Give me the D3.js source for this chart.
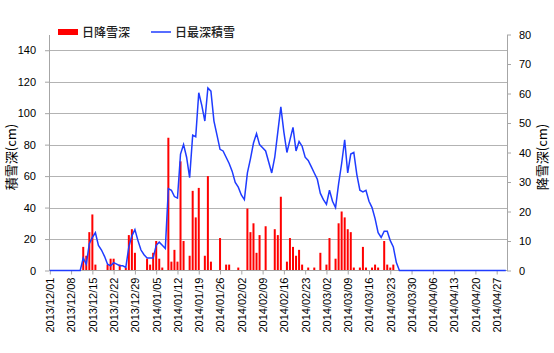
<!DOCTYPE html>
<html lang="ja">
<head>
  <meta charset="UTF-8">
  <title>日降雪深・日最深積雪</title>
  <script src="https://d3js.org/d3.v7.min.js"></script>
  <style>
    body { margin: 0; background: #fff; }
    text { font-family: "Liberation Sans", Arial, "Noto Sans CJK JP", sans-serif; }
  </style>
</head>
<body>
  <script>
    // 1. Data (one value per day, 2013/12/01 .. 2014/04/30)
    const startDate = new Date(2013, 11, 1);
    const dayCount = 151;

    // 日最深積雪 (cm) - left axis; days not listed are 0
    const depthByDay = {
      11: 8, 12: 4, 13: 17, 14: 21, 15: 24, 16: 16, 17: 13, 18: 9, 19: 4, 20: 3,
      21: 5, 22: 4, 23: 3, 24: 3, 25: 2, 26: 15, 27: 22, 28: 26, 29: 19, 30: 13,
      31: 10, 32: 8, 33: 8, 34: 8, 35: 16, 36: 18, 37: 16, 38: 14, 39: 52, 40: 51,
      41: 47, 42: 46, 43: 74, 44: 80, 45: 72, 46: 59, 47: 86, 48: 85, 49: 113, 50: 105,
      51: 95, 52: 116, 53: 114, 54: 95, 55: 86, 56: 77, 57: 76, 58: 72, 59: 68, 60: 63,
      61: 56, 62: 53, 63: 48, 64: 45, 65: 62, 66: 71, 67: 81, 68: 87, 69: 80, 70: 78,
      71: 76, 72: 69, 73: 62, 74: 72, 75: 88, 76: 104, 77: 88, 78: 75, 79: 83, 80: 91,
      81: 76, 82: 82, 83: 79, 84: 72, 85: 70, 86: 66, 87: 62, 88: 58, 89: 49, 90: 45,
      91: 42, 92: 51, 93: 44, 94: 40, 95: 55, 96: 68, 97: 83, 98: 62, 99: 74, 100: 75,
      101: 61, 102: 51, 103: 50, 104: 51, 105: 44, 106: 40, 107: 33, 108: 24, 109: 21, 110: 25,
      111: 25, 112: 19, 113: 15, 114: 5
    };

    // 日降雪深 (cm) - right axis; days not listed are 0
    const snowfallByDay = {
      11: 8, 12: 5, 13: 13, 14: 19, 15: 2, 19: 2, 20: 4, 21: 4, 23: 2, 25: 1,
      26: 12, 27: 14, 28: 6, 32: 4, 33: 2, 34: 6, 35: 10, 36: 4, 37: 1, 39: 45,
      40: 3, 41: 7, 42: 3, 43: 37, 44: 10, 46: 5, 47: 27, 48: 18, 49: 28, 51: 5,
      52: 32, 53: 3, 56: 11, 58: 2, 59: 2, 62: 1, 65: 21, 66: 13, 67: 16, 68: 6,
      69: 12, 71: 15, 74: 14, 75: 12, 76: 25, 78: 3, 79: 11, 80: 8, 81: 5, 82: 7,
      83: 2, 85: 1, 87: 1, 89: 6, 91: 2, 92: 11, 94: 4, 95: 16, 96: 20, 97: 18,
      98: 14, 99: 13, 100: 1, 102: 1, 103: 8, 104: 1, 106: 1, 107: 2, 108: 1, 110: 10,
      111: 2, 112: 1, 113: 2
    };

    const leftTicks = [0, 20, 40, 60, 80, 100, 120, 140];
    const rightTicks = [0, 10, 20, 30, 40, 50, 60, 70, 80];
    const seriesNames = ["日降雪深", "日最深積雪"];
    const leftTitle = "積雪深(cm)";
    const rightTitle = "降雪深(cm)";

    const days = d3.range(dayCount).map(i => ({
      date: d3.timeDay.offset(startDate, i),
      depth: depthByDay[i] || 0,
      snowfall: snowfallByDay[i] || 0
    }));

    // 2. SVG
    const width = 554, height = 353;
    const plot = { left: 49, right: 507, top: 34.5, bottom: 270.5 };
    const svg = d3.select("body").append("svg")
      .attr("width", width)
      .attr("height", height);

    // 3. Scales
    const x = d3.scaleTime()
      .domain([startDate, d3.timeDay.offset(startDate, dayCount - 1)])
      .range([49.8, 49.8 + 3.04 * (dayCount - 1)]);
    const yLeft = d3.scaleLinear().domain([0, 150]).range([plot.bottom, plot.top]);
    const yRight = d3.scaleLinear().domain([0, 80]).range([plot.bottom, plot.top]);

    // 4. Gridlines
    svg.append("g")
      .selectAll("line")
      .data(leftTicks.filter(d => d > 0))
      .join("line")
      .attr("x1", plot.left).attr("x2", plot.right)
      .attr("y1", d => Math.round(yLeft(d)) + 0.5)
      .attr("y2", d => Math.round(yLeft(d)) + 0.5)
      .attr("stroke", "#b3b3b3");

    // 5. Bars
    svg.append("g")
      .selectAll("rect")
      .data(days.filter(d => d.snowfall > 0))
      .join("rect")
      .attr("x", d => x(d.date) - 1)
      .attr("width", 2)
      .attr("y", d => yRight(d.snowfall))
      .attr("height", d => plot.bottom - yRight(d.snowfall))
      .attr("fill", "#ff0000");

    // 6. Axes
    const axisColor = "#a6a6a6";
    function styleAxis(g) {
      g.select(".domain").attr("stroke", axisColor);
      g.selectAll(".tick line").attr("stroke", axisColor);
      g.selectAll(".tick text").attr("fill", "#000").style("font-size", "11px");
    }

    svg.append("g")
      .attr("transform", `translate(${plot.left},0)`)
      .call(d3.axisLeft(yLeft).tickValues(leftTicks).tickSize(4).tickPadding(9).tickSizeOuter(0))
      .call(styleAxis);

    svg.append("g")
      .attr("transform", `translate(${plot.right},0)`)
      .call(d3.axisRight(yRight).tickValues(rightTicks).tickSize(4).tickPadding(8).tickSizeOuter(0))
      .call(styleAxis);

    const xTicks = d3.range(0, dayCount, 7).map(i => d3.timeDay.offset(startDate, i));
    const xAxis = svg.append("g")
      .attr("transform", `translate(0,${plot.bottom})`)
      .call(d3.axisBottom(x).tickValues(xTicks).tickFormat(d3.timeFormat("%Y/%m/%d"))
        .tickSize(4).tickSizeOuter(0))
      .call(styleAxis);
    xAxis.select(".domain").remove();
    xAxis.selectAll(".tick text")
      .attr("transform", "rotate(-90)")
      .attr("text-anchor", "end")
      .attr("x", -7)
      .attr("y", 0)
      .attr("dy", "0.35em");
    svg.append("line")
      .attr("x1", plot.left).attr("x2", plot.right)
      .attr("y1", plot.bottom).attr("y2", plot.bottom)
      .attr("stroke", axisColor);

    // 7. Line
    const line = d3.line()
      .x(d => x(d.date))
      .y(d => yLeft(d.depth));
    svg.append("path")
      .datum(days)
      .attr("fill", "none")
      .attr("stroke", "#1f3cff")
      .attr("stroke-width", 1.5)
      .attr("d", line);

    // 8. Axis titles
    svg.append("text")
      .attr("transform", "translate(16,157) rotate(-90)")
      .attr("text-anchor", "middle")
      .style("font-size", "13px")
      .style("font-family", "'Noto Sans CJK JP', sans-serif")
      .text(leftTitle);
    svg.append("text")
      .attr("transform", "translate(547,157) rotate(-90)")
      .attr("text-anchor", "middle")
      .style("font-size", "13px")
      .style("font-family", "'Noto Sans CJK JP', sans-serif")
      .text(rightTitle);

    // 9. Legend
    const legend = svg.append("g").style("font-family", "'Noto Sans CJK JP', sans-serif");
    legend.append("rect")
      .attr("x", 58).attr("y", 29).attr("width", 20).attr("height", 6)
      .attr("fill", "#ff0000");
    legend.append("text")
      .attr("x", 82).attr("y", 37)
      .style("font-size", "12px").style("font-weight", 500).attr("fill", "#222")
      .text(seriesNames[0]);
    legend.append("line")
      .attr("x1", 151).attr("x2", 171).attr("y1", 32).attr("y2", 32)
      .attr("stroke", "#1f3cff").attr("stroke-width", 1.5);
    legend.append("text")
      .attr("x", 175).attr("y", 37)
      .style("font-size", "12px").style("font-weight", 500).attr("fill", "#222")
      .text(seriesNames[1]);
  </script>
</body>
</html>
